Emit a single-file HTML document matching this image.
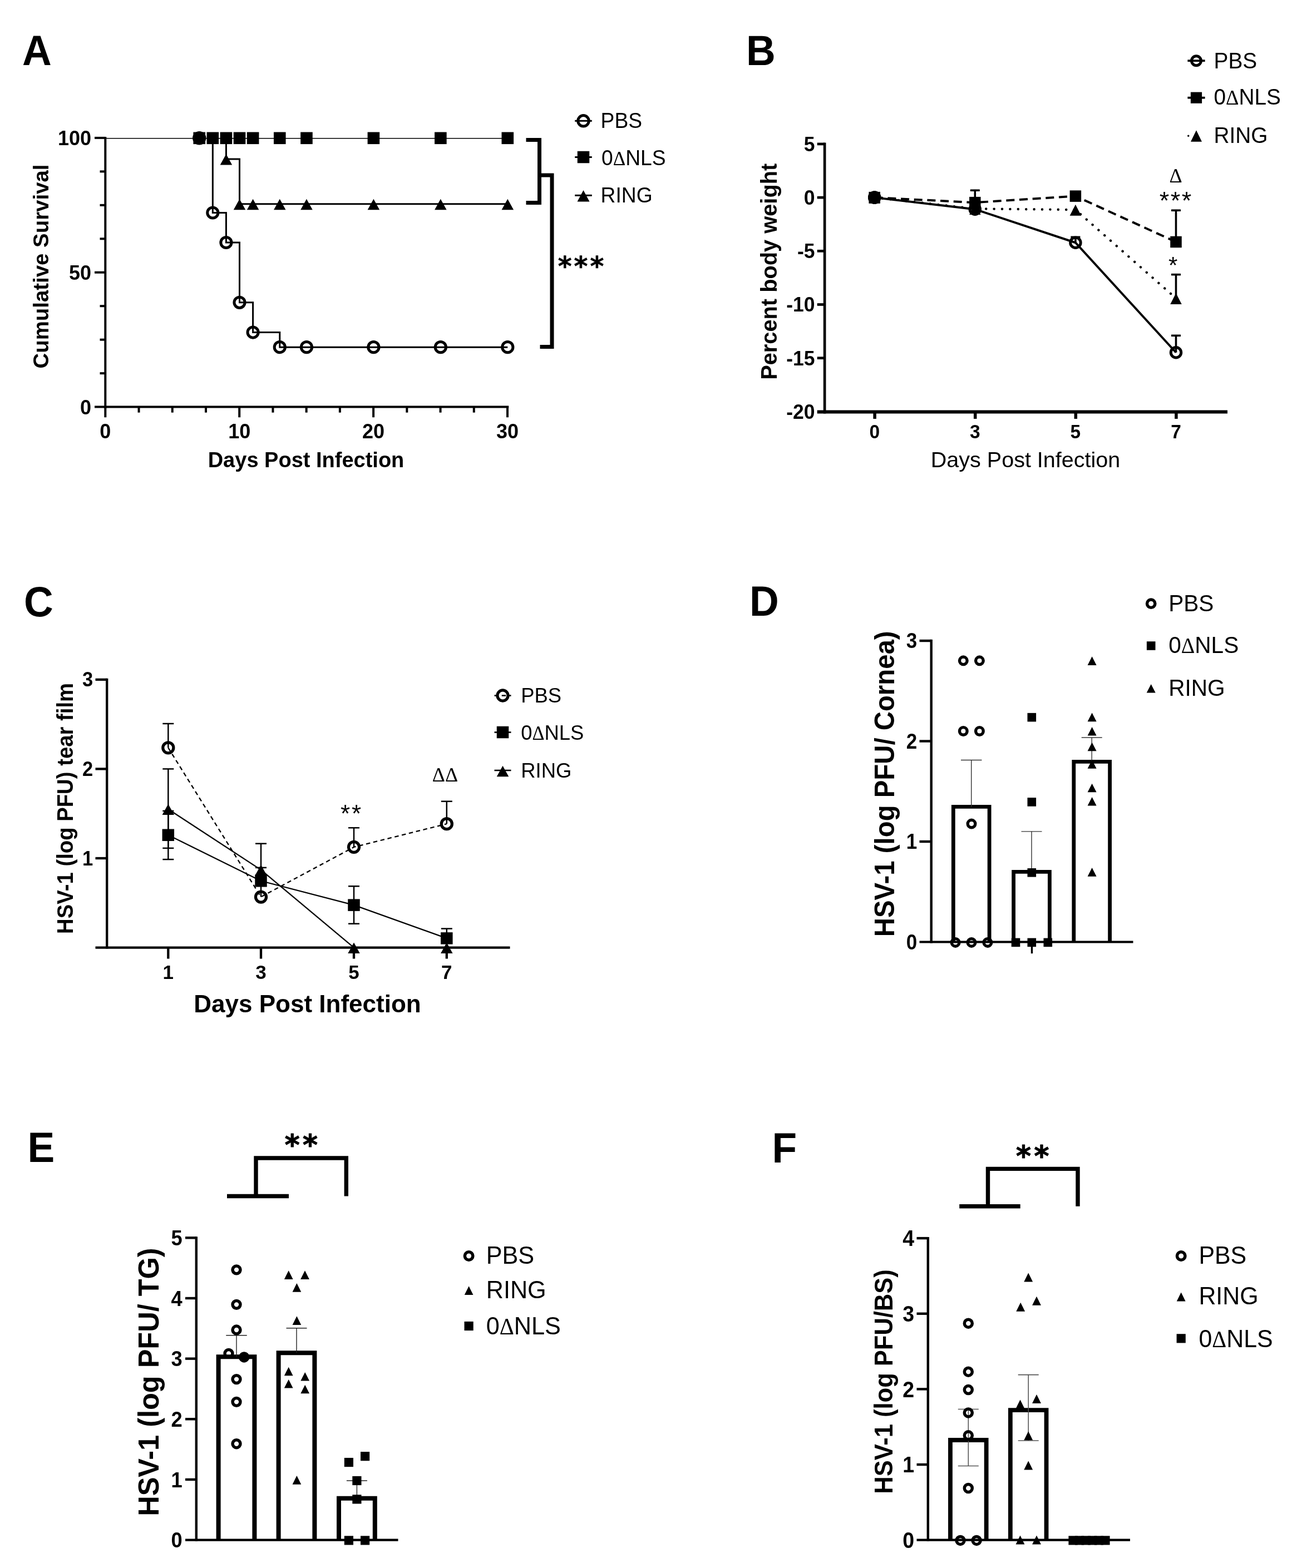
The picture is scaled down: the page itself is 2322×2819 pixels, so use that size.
<!DOCTYPE html>
<html lang="en">
<head>
<meta charset="utf-8">
<title>Figure: HSV-1 vaccine efficacy (survival, body weight, viral titers)</title>
<style>
html,body{margin:0;padding:0;background:#fff;}
body{width:2322px;height:2819px;overflow:hidden;}
svg{display:block;}
svg text{font-family:'Liberation Sans', Arial, Helvetica, sans-serif;fill:#000;}
svg text.sf, svg tspan.sf{font-family:'Liberation Serif', 'Times New Roman', serif;}
svg text.dj{font-family:'DejaVu Sans', 'Liberation Sans', sans-serif;}
svg line, svg polyline{stroke:#000;}
</style>
</head>
<body>
<svg width="2322" height="2819" viewBox="0 0 2322 2819" role="img" aria-label="Six panel figure">
<rect x="0" y="0" width="2322" height="2819" fill="#fff" stroke="none"/>
<!-- Panel A: cumulative survival -->
<text transform="translate(40 116.5) scale(1 1.04)" font-size="73" font-weight="bold">A</text>
<line x1="189.3" y1="246" x2="189.3" y2="734" stroke-width="4"/>
<line x1="170" y1="731.4" x2="914.3" y2="731.4" stroke-width="4"/>
<line x1="179.5" y1="671.14" x2="189.3" y2="671.14" stroke-width="4"/>
<line x1="179.5" y1="610.68" x2="189.3" y2="610.68" stroke-width="4"/>
<line x1="179.5" y1="550.21" x2="189.3" y2="550.21" stroke-width="4"/>
<line x1="170" y1="489.75" x2="189.3" y2="489.75" stroke-width="4"/>
<line x1="179.5" y1="429.29" x2="189.3" y2="429.29" stroke-width="4"/>
<line x1="179.5" y1="368.83" x2="189.3" y2="368.83" stroke-width="4"/>
<line x1="179.5" y1="308.36" x2="189.3" y2="308.36" stroke-width="4"/>
<line x1="170" y1="247.9" x2="189.3" y2="247.9" stroke-width="4"/>
<line x1="189.3" y1="732" x2="189.3" y2="750.3" stroke-width="4"/>
<line x1="249.53" y1="732" x2="249.53" y2="741.7" stroke-width="4"/>
<line x1="309.75" y1="732" x2="309.75" y2="741.7" stroke-width="4"/>
<line x1="369.98" y1="732" x2="369.98" y2="741.7" stroke-width="4"/>
<line x1="430.2" y1="732" x2="430.2" y2="750.3" stroke-width="4"/>
<line x1="490.43" y1="732" x2="490.43" y2="741.7" stroke-width="4"/>
<line x1="550.65" y1="732" x2="550.65" y2="741.7" stroke-width="4"/>
<line x1="610.88" y1="732" x2="610.88" y2="741.7" stroke-width="4"/>
<line x1="671.1" y1="732" x2="671.1" y2="750.3" stroke-width="4"/>
<line x1="731.33" y1="732" x2="731.33" y2="741.7" stroke-width="4"/>
<line x1="791.55" y1="732" x2="791.55" y2="741.7" stroke-width="4"/>
<line x1="851.78" y1="732" x2="851.78" y2="741.7" stroke-width="4"/>
<line x1="912" y1="732" x2="912" y2="750.3" stroke-width="4"/>
<text transform="translate(164 744.9) scale(1 1.04)" font-size="36" font-weight="bold" text-anchor="end">0</text>
<text transform="translate(164 503.05) scale(1 1.04)" font-size="36" font-weight="bold" text-anchor="end">50</text>
<text transform="translate(164 261.2) scale(1 1.04)" font-size="36" font-weight="bold" text-anchor="end">100</text>
<text transform="translate(189.3 788.4) scale(1 1.03)" font-size="36" font-weight="bold" text-anchor="middle">0</text>
<text transform="translate(430.2 788.4) scale(1 1.03)" font-size="36" font-weight="bold" text-anchor="middle">10</text>
<text transform="translate(671.1 788.4) scale(1 1.03)" font-size="36" font-weight="bold" text-anchor="middle">20</text>
<text transform="translate(912 788.4) scale(1 1.03)" font-size="36" font-weight="bold" text-anchor="middle">30</text>
<text x="550" y="840" font-size="38" font-weight="bold" text-anchor="middle">Days Post Infection</text>
<text transform="translate(87.3 479) rotate(-90) scale(1 1.03)" font-size="38.4" font-weight="bold" text-anchor="middle">Cumulative Survival</text>
<polyline points="191,248.8 912.3,248.8" fill="none" stroke-width="1.6" stroke-linejoin="miter"/>
<polyline points="406.41,248.3 406.41,286.03 430.5,286.03 430.5,366.81 912.3,366.81" fill="none" stroke-width="3" stroke-linejoin="miter"/>
<polyline points="382.32,248.3 382.32,382.48 406.41,382.48 406.41,435.98 430.5,435.98 430.5,543.84 454.59,543.84 454.59,597.53 502.77,597.53 502.77,624.13 912.3,624.13" fill="none" stroke-width="3" stroke-linejoin="miter"/>
<circle cx="358.23" cy="248.3" r="9.75" fill="#000" stroke="#000" stroke-width="5"/>
<circle cx="382.32" cy="382.48" r="9.6" fill="none" stroke="#000" stroke-width="5"/>
<circle cx="406.41" cy="435.98" r="9.6" fill="none" stroke="#000" stroke-width="5"/>
<circle cx="430.5" cy="543.84" r="9.6" fill="none" stroke="#000" stroke-width="5"/>
<circle cx="454.59" cy="597.53" r="9.6" fill="none" stroke="#000" stroke-width="5"/>
<circle cx="502.77" cy="624.13" r="9.6" fill="none" stroke="#000" stroke-width="5"/>
<circle cx="550.95" cy="624.13" r="9.6" fill="none" stroke="#000" stroke-width="5"/>
<circle cx="671.4" cy="624.13" r="9.6" fill="none" stroke="#000" stroke-width="5"/>
<circle cx="791.85" cy="624.13" r="9.6" fill="none" stroke="#000" stroke-width="5"/>
<circle cx="912.3" cy="624.13" r="9.6" fill="none" stroke="#000" stroke-width="5"/>
<polygon points="406.41,276.98 417.16,296.48 395.66,296.48" fill="#000" stroke="none"/>
<polygon points="430.5,357.76 441.25,377.26 419.75,377.26" fill="#000" stroke="none"/>
<polygon points="454.59,357.76 465.34,377.26 443.84,377.26" fill="#000" stroke="none"/>
<polygon points="502.77,357.76 513.52,377.26 492.02,377.26" fill="#000" stroke="none"/>
<polygon points="550.95,357.76 561.7,377.26 540.2,377.26" fill="#000" stroke="none"/>
<polygon points="671.4,357.76 682.15,377.26 660.65,377.26" fill="#000" stroke="none"/>
<polygon points="791.85,357.76 802.6,377.26 781.1,377.26" fill="#000" stroke="none"/>
<polygon points="912.3,357.76 923.05,377.26 901.55,377.26" fill="#000" stroke="none"/>
<rect x="347.43" y="237.5" width="21.6" height="21.6" fill="#000" stroke="none"/>
<rect x="371.52" y="237.5" width="21.6" height="21.6" fill="#000" stroke="none"/>
<rect x="395.61" y="237.5" width="21.6" height="21.6" fill="#000" stroke="none"/>
<rect x="419.7" y="237.5" width="21.6" height="21.6" fill="#000" stroke="none"/>
<rect x="443.79" y="237.5" width="21.6" height="21.6" fill="#000" stroke="none"/>
<rect x="491.97" y="237.5" width="21.6" height="21.6" fill="#000" stroke="none"/>
<rect x="540.15" y="237.5" width="21.6" height="21.6" fill="#000" stroke="none"/>
<rect x="660.6" y="237.5" width="21.6" height="21.6" fill="#000" stroke="none"/>
<rect x="781.05" y="237.5" width="21.6" height="21.6" fill="#000" stroke="none"/>
<rect x="901.5" y="237.5" width="21.6" height="21.6" fill="#000" stroke="none"/>
<line x1="1033.2" y1="217.3" x2="1063.8" y2="217.3" stroke-width="3"/>
<circle cx="1048.5" cy="217.3" r="9.75" fill="none" stroke="#000" stroke-width="5"/>
<line x1="1033.2" y1="282.5" x2="1063.8" y2="282.5" stroke-width="3"/>
<rect x="1037.75" y="271.75" width="21.5" height="21.5" fill="#000" stroke="none"/>
<line x1="1033.2" y1="351.3" x2="1063.8" y2="351.3" stroke-width="3"/>
<polygon points="1048.5,342.05 1059.5,362.55 1037.5,362.55" fill="#000" stroke="none"/>
<text transform="translate(1079.6 229.7) scale(1 1.04)" font-size="37.2">PBS</text>
<text transform="translate(1081 296.5) scale(1 1.04)" font-size="37.2">0<tspan class="sf" font-size="34.97">Δ</tspan>NLS</text>
<text transform="translate(1079.6 364) scale(1 1.04)" font-size="37.2">RING</text>
<polyline points="945.5,251.5 969.5,251.5 969.5,364.5 945.5,364.5" fill="none" stroke-width="7" stroke-linejoin="miter"/>
<polyline points="969.5,315 992,315 992,623.5 970.5,623.5" fill="none" stroke-width="7" stroke-linejoin="miter"/>
<text x="1002.65" y="495.41" font-size="47.5" letter-spacing="4.06" font-weight="bold" class="dj" stroke="#000" stroke-width="0.6" stroke-linejoin="round">***</text>
<!-- Panel B: percent body weight -->
<text transform="translate(1341 116.5) scale(1 1.04)" font-size="73" font-weight="bold">B</text>
<line x1="1482.1" y1="256.6" x2="1482.1" y2="743.5" stroke-width="4.7"/>
<line x1="1468.7" y1="740.5" x2="2206" y2="740.5" stroke-width="6"/>
<line x1="1468.7" y1="258.9" x2="1482.1" y2="258.9" stroke-width="4.7"/>
<line x1="1468.7" y1="355.1" x2="1482.1" y2="355.1" stroke-width="4.7"/>
<line x1="1468.7" y1="451.3" x2="1482.1" y2="451.3" stroke-width="4.7"/>
<line x1="1468.7" y1="547.5" x2="1482.1" y2="547.5" stroke-width="4.7"/>
<line x1="1468.7" y1="643.7" x2="1482.1" y2="643.7" stroke-width="4.7"/>
<line x1="1572.1" y1="740.5" x2="1572.1" y2="753" stroke-width="5.5"/>
<line x1="1752.7" y1="740.5" x2="1752.7" y2="753" stroke-width="5.5"/>
<line x1="1933.3" y1="740.5" x2="1933.3" y2="753" stroke-width="5.5"/>
<line x1="2113.9" y1="740.5" x2="2113.9" y2="753" stroke-width="5.5"/>
<text transform="translate(1464.5 271.7) scale(1 1.03)" font-size="35.5" font-weight="bold" text-anchor="end">5</text>
<text transform="translate(1464.5 367.9) scale(1 1.03)" font-size="35.5" font-weight="bold" text-anchor="end">0</text>
<text transform="translate(1464.5 464.1) scale(1 1.03)" font-size="35.5" font-weight="bold" text-anchor="end">-5</text>
<text transform="translate(1464.5 560.3) scale(1 1.03)" font-size="35.5" font-weight="bold" text-anchor="end">-10</text>
<text transform="translate(1464.5 656.5) scale(1 1.03)" font-size="35.5" font-weight="bold" text-anchor="end">-15</text>
<text transform="translate(1464.5 752.7) scale(1 1.03)" font-size="35.5" font-weight="bold" text-anchor="end">-20</text>
<text transform="translate(1571.7 787.8) scale(1 1.04)" font-size="33.5" font-weight="bold" text-anchor="middle">0</text>
<text transform="translate(1752.3 787.8) scale(1 1.04)" font-size="33.5" font-weight="bold" text-anchor="middle">3</text>
<text transform="translate(1932.9 787.8) scale(1 1.04)" font-size="33.5" font-weight="bold" text-anchor="middle">5</text>
<text transform="translate(2113.5 787.8) scale(1 1.04)" font-size="33.5" font-weight="bold" text-anchor="middle">7</text>
<text x="1843" y="839.6" font-size="39.5" text-anchor="middle">Days Post Infection</text>
<text transform="translate(1396.3 488.3) rotate(-90) scale(1 1.02)" font-size="39.8" font-weight="bold" text-anchor="middle">Percent body weight</text>
<polyline points="1571.7,355.1 1752.3,376.26 1932.9,436.29 2113.5,633.7" fill="none" stroke-width="3.9" stroke-linejoin="miter"/>
<polyline points="1571.7,355.1 1752.3,364.14 1932.9,352.6 2113.5,434.95" fill="none" stroke-width="4" stroke-linejoin="miter" stroke-dasharray="15 8.7"/>
<polyline points="1571.7,355.1 1752.3,375.3 1932.9,377.03 2113.5,536.34" fill="none" stroke-width="4.4" stroke-linejoin="miter" stroke-dasharray="0.1 14.3" stroke-linecap="round"/>
<line x1="1752.3" y1="342.21" x2="1752.3" y2="364.14" stroke-width="3.6"/>
<line x1="1743.8" y1="342.21" x2="1760.8" y2="342.21" stroke-width="3.6"/>
<line x1="1932.9" y1="426.29" x2="1932.9" y2="436.29" stroke-width="3.6"/>
<line x1="1924.4" y1="426.29" x2="1941.4" y2="426.29" stroke-width="3.6"/>
<line x1="2113.5" y1="378.19" x2="2113.5" y2="434.95" stroke-width="3.6"/>
<line x1="2105" y1="378.19" x2="2122" y2="378.19" stroke-width="3.6"/>
<line x1="2113.5" y1="493.63" x2="2113.5" y2="536.34" stroke-width="3.6"/>
<line x1="2105" y1="493.63" x2="2122" y2="493.63" stroke-width="3.6"/>
<line x1="2113.5" y1="603.3" x2="2113.5" y2="633.7" stroke-width="3.6"/>
<line x1="2105" y1="603.3" x2="2122" y2="603.3" stroke-width="3.6"/>
<circle cx="1571.7" cy="355.1" r="9.25" fill="none" stroke="#000" stroke-width="5"/>
<circle cx="1752.3" cy="376.26" r="9.25" fill="none" stroke="#000" stroke-width="5"/>
<circle cx="1932.9" cy="436.29" r="9.25" fill="none" stroke="#000" stroke-width="5"/>
<circle cx="2113.5" cy="633.7" r="9.25" fill="none" stroke="#000" stroke-width="5"/>
<polygon points="1571.7,345.8 1581.95,365.8 1561.45,365.8" fill="#000" stroke="none"/>
<polygon points="1752.3,366 1762.55,386 1742.05,386" fill="#000" stroke="none"/>
<polygon points="1932.9,367.73 1943.15,387.73 1922.65,387.73" fill="#000" stroke="none"/>
<polygon points="2113.5,527.04 2123.75,547.04 2103.25,547.04" fill="#000" stroke="none"/>
<rect x="1561.45" y="344.85" width="20.5" height="20.5" fill="#000" stroke="none"/>
<rect x="1742.05" y="353.89" width="20.5" height="20.5" fill="#000" stroke="none"/>
<rect x="1922.65" y="342.35" width="20.5" height="20.5" fill="#000" stroke="none"/>
<rect x="2103.25" y="424.7" width="20.5" height="20.5" fill="#000" stroke="none"/>
<circle cx="1571.7" cy="355.1" r="9.25" fill="#000" stroke="#000" stroke-width="5"/>
<line x1="2134.4" y1="109.2" x2="2165.6" y2="109.2" stroke-width="3.8"/>
<circle cx="2150" cy="109.2" r="8.5" fill="none" stroke="#000" stroke-width="5"/>
<line x1="2134.4" y1="175.7" x2="2165.6" y2="175.7" stroke-width="3.8"/>
<rect x="2139.9" y="165.6" width="20.2" height="20.2" fill="#000" stroke="none"/>
<line x1="2135.7" y1="244.2" x2="2164.4" y2="244.2" stroke-width="3.4" stroke-dasharray="0.1 14.3" stroke-linecap="round"/>
<polygon points="2150,234.15 2160,254.65 2140,254.65" fill="#000" stroke="none"/>
<text transform="translate(2181.5 122.6) scale(1 1.04)" font-size="38.8">PBS</text>
<text transform="translate(2181.5 188.4) scale(1 1.04)" font-size="38.8">0<tspan class="sf" font-size="36.47">Δ</tspan>NLS</text>
<text transform="translate(2181.5 257) scale(1 1.04)" font-size="38.8">RING</text>
<text x="2113" y="327.5" font-size="36" text-anchor="middle" class="sf">Δ</text>
<text x="2083.82" y="375.68" font-size="45" letter-spacing="2.5">***</text>
<text x="2100.11" y="491.43" font-size="42" letter-spacing="3.66">*</text>
<!-- Panel C: tear film titers -->
<text transform="translate(43 1107.8) scale(1 1.04)" font-size="73" font-weight="bold">C</text>
<line x1="192.2" y1="1219.8" x2="192.2" y2="1705.6" stroke-width="4.3"/>
<line x1="171.5" y1="1703.6" x2="916.5" y2="1703.6" stroke-width="4.3"/>
<line x1="171.5" y1="1543" x2="192.2" y2="1543" stroke-width="4.3"/>
<line x1="171.5" y1="1382.4" x2="192.2" y2="1382.4" stroke-width="4.3"/>
<line x1="171.5" y1="1221.8" x2="192.2" y2="1221.8" stroke-width="4.3"/>
<line x1="302.3" y1="1703.6" x2="302.3" y2="1723.6" stroke-width="4.3"/>
<line x1="469" y1="1703.6" x2="469" y2="1723.6" stroke-width="4.3"/>
<line x1="636" y1="1703.6" x2="636" y2="1723.6" stroke-width="4.3"/>
<line x1="802.8" y1="1703.6" x2="802.8" y2="1723.6" stroke-width="4.3"/>
<text transform="translate(167.2 1555.6) scale(1 1.05)" font-size="34.5" font-weight="bold" text-anchor="end">1</text>
<text transform="translate(167.2 1395) scale(1 1.05)" font-size="34.5" font-weight="bold" text-anchor="end">2</text>
<text transform="translate(167.2 1234.4) scale(1 1.05)" font-size="34.5" font-weight="bold" text-anchor="end">3</text>
<text x="302.3" y="1759.8" font-size="35" font-weight="bold" text-anchor="middle">1</text>
<text x="469" y="1759.8" font-size="35" font-weight="bold" text-anchor="middle">3</text>
<text x="636" y="1759.8" font-size="35" font-weight="bold" text-anchor="middle">5</text>
<text x="802.8" y="1759.8" font-size="35" font-weight="bold" text-anchor="middle">7</text>
<text x="552.5" y="1820" font-size="44" font-weight="bold" text-anchor="middle">Days Post Infection</text>
<text transform="translate(131 1453.4) rotate(-90) scale(1 1.06)" font-size="38.3" font-weight="bold" text-anchor="middle">HSV-1 (log PFU) tear film</text>
<line x1="302.3" y1="1300.98" x2="302.3" y2="1344.34" stroke-width="2.5"/>
<line x1="292.3" y1="1300.98" x2="312.3" y2="1300.98" stroke-width="2.5"/>
<line x1="302.3" y1="1382.4" x2="302.3" y2="1524.85" stroke-width="2.5"/>
<line x1="292.3" y1="1382.4" x2="312.3" y2="1382.4" stroke-width="2.5"/>
<line x1="292.3" y1="1524.85" x2="312.3" y2="1524.85" stroke-width="2.5"/>
<line x1="302.3" y1="1457.88" x2="302.3" y2="1545.09" stroke-width="2.5"/>
<line x1="292.3" y1="1457.88" x2="312.3" y2="1457.88" stroke-width="2.5"/>
<line x1="292.3" y1="1545.09" x2="312.3" y2="1545.09" stroke-width="2.5"/>
<line x1="469" y1="1516.66" x2="469" y2="1563.88" stroke-width="2.5"/>
<line x1="459" y1="1516.66" x2="479" y2="1516.66" stroke-width="2.5"/>
<line x1="469" y1="1559.86" x2="469" y2="1612.54" stroke-width="2.5"/>
<line x1="459" y1="1559.86" x2="479" y2="1559.86" stroke-width="2.5"/>
<line x1="469" y1="1572.71" x2="469" y2="1583.79" stroke-width="2.5"/>
<line x1="459" y1="1572.71" x2="479" y2="1572.71" stroke-width="2.5"/>
<line x1="636" y1="1488.24" x2="636" y2="1522.92" stroke-width="2.5"/>
<line x1="626" y1="1488.24" x2="646" y2="1488.24" stroke-width="2.5"/>
<line x1="636" y1="1593.27" x2="636" y2="1660.72" stroke-width="2.5"/>
<line x1="626" y1="1593.27" x2="646" y2="1593.27" stroke-width="2.5"/>
<line x1="626" y1="1660.72" x2="646" y2="1660.72" stroke-width="2.5"/>
<line x1="802.8" y1="1440.7" x2="802.8" y2="1481.17" stroke-width="2.5"/>
<line x1="792.8" y1="1440.7" x2="812.8" y2="1440.7" stroke-width="2.5"/>
<line x1="802.8" y1="1669.55" x2="802.8" y2="1686.9" stroke-width="2.5"/>
<line x1="792.8" y1="1669.55" x2="812.8" y2="1669.55" stroke-width="2.5"/>
<polyline points="302.3,1344.34 469,1612.54 636,1522.92 802.8,1481.17" fill="none" stroke-width="2.3" stroke-linejoin="miter" stroke-dasharray="7.5 5.7"/>
<polyline points="302.3,1501.24 469,1583.79 636,1627.15 802.8,1686.9" fill="none" stroke-width="2.3" stroke-linejoin="miter"/>
<polyline points="302.3,1454.67 469,1563.88 636,1703.6 802.8,1703.6" fill="none" stroke-width="2.3" stroke-linejoin="miter"/>
<circle cx="302.3" cy="1344.34" r="9.55" fill="none" stroke="#000" stroke-width="5.2"/>
<circle cx="469" cy="1612.54" r="9.55" fill="none" stroke="#000" stroke-width="5.2"/>
<circle cx="636" cy="1522.92" r="9.55" fill="none" stroke="#000" stroke-width="5.2"/>
<circle cx="802.8" cy="1481.17" r="9.55" fill="none" stroke="#000" stroke-width="5.2"/>
<rect x="291.55" y="1490.49" width="21.5" height="21.5" fill="#000" stroke="none"/>
<rect x="458.25" y="1573.04" width="21.5" height="21.5" fill="#000" stroke="none"/>
<rect x="625.25" y="1616.4" width="21.5" height="21.5" fill="#000" stroke="none"/>
<rect x="792.05" y="1676.15" width="21.5" height="21.5" fill="#000" stroke="none"/>
<polygon points="302.3,1445.62 313.05,1465.12 291.55,1465.12" fill="#000" stroke="none"/>
<polygon points="469,1554.83 479.75,1574.33 458.25,1574.33" fill="#000" stroke="none"/>
<polygon points="636,1694.55 646.75,1714.05 625.25,1714.05" fill="#000" stroke="none"/>
<polygon points="802.8,1694.55 813.55,1714.05 792.05,1714.05" fill="#000" stroke="none"/>
<line x1="888.5" y1="1250.5" x2="918.5" y2="1250.5" stroke-width="2.4" stroke-dasharray="7.5 5.7"/>
<circle cx="903.5" cy="1250.5" r="9.55" fill="none" stroke="#000" stroke-width="5.2"/>
<line x1="888.5" y1="1316.5" x2="918.5" y2="1316.5" stroke-width="2.6"/>
<rect x="892.75" y="1305.75" width="21.5" height="21.5" fill="#000" stroke="none"/>
<line x1="888.5" y1="1385" x2="918.5" y2="1385" stroke-width="2.6"/>
<polygon points="903.5,1376.75 914.25,1396.25 892.75,1396.25" fill="#000" stroke="none"/>
<text transform="translate(936.3 1263.2) scale(1 1.04)" font-size="36.4">PBS</text>
<text transform="translate(936.3 1329.5) scale(1 1.04)" font-size="36.4">0<tspan class="sf" font-size="34.22">Δ</tspan>NLS</text>
<text transform="translate(936.3 1397.5) scale(1 1.04)" font-size="36.4">RING</text>
<text x="611.92" y="1478.16" font-size="44" letter-spacing="2.88">**</text>
<text x="800" y="1405" font-size="36" text-anchor="middle" class="sf">ΔΔ</text>
<!-- Panel D: cornea titers -->
<text transform="translate(1347 1107.4) scale(1 1.04)" font-size="73" font-weight="bold">D</text>
<polyline points="1713.3,1693.5 1713.3,1450.39 1778.1,1450.39 1778.1,1693.5" fill="none" stroke-width="6.8" stroke-linejoin="miter"/>
<polyline points="1821.6,1693.5 1821.6,1567.36 1886.4,1567.36 1886.4,1693.5" fill="none" stroke-width="6.8" stroke-linejoin="miter"/>
<polyline points="1929.8,1693.5 1929.8,1369.39 1994.6,1369.39 1994.6,1693.5" fill="none" stroke-width="6.8" stroke-linejoin="miter"/>
<line x1="1673.7" y1="1149.8" x2="1673.7" y2="1695.6" stroke-width="4.4"/>
<line x1="1652.5" y1="1693.5" x2="2036.5" y2="1693.5" stroke-width="4.2"/>
<line x1="1652.5" y1="1513" x2="1673.7" y2="1513" stroke-width="4.4"/>
<line x1="1652.5" y1="1332.5" x2="1673.7" y2="1332.5" stroke-width="4.4"/>
<line x1="1652.5" y1="1152" x2="1673.7" y2="1152" stroke-width="4.4"/>
<text transform="translate(1648.2 1706.97) scale(1 1.1)" font-size="35" font-weight="bold" text-anchor="end">0</text>
<text transform="translate(1648.2 1526.47) scale(1 1.1)" font-size="35" font-weight="bold" text-anchor="end">1</text>
<text transform="translate(1648.2 1345.97) scale(1 1.1)" font-size="35" font-weight="bold" text-anchor="end">2</text>
<text transform="translate(1648.2 1165.47) scale(1 1.1)" font-size="35" font-weight="bold" text-anchor="end">3</text>
<text transform="translate(1607 1409.3) rotate(-90) scale(1 1.04)" font-size="47.35" font-weight="bold" text-anchor="middle">HSV-1 (log PFU/ Cornea)</text>
<line x1="1745.7" y1="1366.49" x2="1745.7" y2="1450.39" stroke-width="1.4" style="stroke:#333"/>
<line x1="1726.95" y1="1366.49" x2="1764.45" y2="1366.49" stroke-width="1.4" style="stroke:#333"/>
<circle cx="1731.3" cy="1187.86" r="6.8" fill="none" stroke="#000" stroke-width="5.4"/>
<circle cx="1760.4" cy="1187.86" r="6.8" fill="none" stroke="#000" stroke-width="5.4"/>
<circle cx="1731.3" cy="1314.42" r="6.8" fill="none" stroke="#000" stroke-width="5.4"/>
<circle cx="1760.4" cy="1314.42" r="6.8" fill="none" stroke="#000" stroke-width="5.4"/>
<circle cx="1746" cy="1481.12" r="6.8" fill="none" stroke="#000" stroke-width="5.4"/>
<circle cx="1717.1" cy="1694.4" r="6.8" fill="none" stroke="#000" stroke-width="5.4"/>
<circle cx="1746" cy="1694.4" r="6.8" fill="none" stroke="#000" stroke-width="5.4"/>
<circle cx="1774.9" cy="1694.4" r="6.8" fill="none" stroke="#000" stroke-width="5.4"/>
<line x1="1854" y1="1494.86" x2="1854" y2="1567.36" stroke-width="1.4" style="stroke:#333"/>
<line x1="1835.5" y1="1494.86" x2="1872.5" y2="1494.86" stroke-width="1.4" style="stroke:#333"/>
<rect x="1846.5" y="1281.85" width="15.6" height="15.6" fill="#000" stroke="none"/>
<rect x="1846.5" y="1434.09" width="15.6" height="15.6" fill="#000" stroke="none"/>
<rect x="1846.5" y="1561.01" width="15.6" height="15.6" fill="#000" stroke="none"/>
<rect x="1817.7" y="1686.6" width="15.6" height="15.6" fill="#000" stroke="none"/>
<rect x="1846.5" y="1686.6" width="15.6" height="15.6" fill="#000" stroke="none"/>
<rect x="1875.5" y="1686.6" width="15.6" height="15.6" fill="#000" stroke="none"/>
<line x1="1962.2" y1="1326" x2="1962.2" y2="1369.39" stroke-width="1.4" style="stroke:#333"/>
<line x1="1943.7" y1="1326" x2="1980.7" y2="1326" stroke-width="1.4" style="stroke:#333"/>
<polygon points="1962.6,1180.37 1970.6,1195.97 1954.6,1195.97" fill="#000" stroke="none"/>
<polygon points="1962.6,1281.62 1970.6,1297.22 1954.6,1297.22" fill="#000" stroke="none"/>
<polygon points="1962.6,1306.93 1970.6,1322.53 1954.6,1322.53" fill="#000" stroke="none"/>
<polygon points="1962.6,1334.77 1970.6,1350.37 1954.6,1350.37" fill="#000" stroke="none"/>
<polygon points="1962.6,1366.05 1970.6,1381.65 1954.6,1381.65" fill="#000" stroke="none"/>
<polygon points="1962.6,1408.72 1970.6,1424.32 1954.6,1424.32" fill="#000" stroke="none"/>
<polygon points="1962.6,1432.95 1970.6,1448.55 1954.6,1448.55" fill="#000" stroke="none"/>
<polygon points="1962.6,1560.05 1970.6,1575.65 1954.6,1575.65" fill="#000" stroke="none"/>
<circle cx="2068.7" cy="1085.2" r="7.2" fill="none" stroke="#000" stroke-width="5.4"/>
<text transform="translate(2100.2 1098.5) scale(1 1.04)" font-size="40.6">PBS</text>
<rect x="2060.9" y="1153.2" width="15.6" height="15.6" fill="#000" stroke="none"/>
<text transform="translate(2100.2 1174.2) scale(1 1.04)" font-size="40.6">0<tspan class="sf" font-size="38.16">Δ</tspan>NLS</text>
<polygon points="2068.7,1229.9 2076.7,1245.5 2060.7,1245.5" fill="#000" stroke="none"/>
<text transform="translate(2100.2 1250.5) scale(1 1.04)" font-size="40.6">RING</text>
<line x1="1854.5" y1="1693.5" x2="1854.5" y2="1714.2" stroke-width="3.4"/>
<!-- Panel E: TG titers -->
<text transform="translate(49.6 2089.2) scale(1 1.04)" font-size="73" font-weight="bold">E</text>
<polyline points="392.6,2768.6 392.6,2439.27 457.4,2439.27 457.4,2768.6" fill="none" stroke-width="8" stroke-linejoin="miter"/>
<polyline points="500.6,2768.6 500.6,2432.21 565.4,2432.21 565.4,2768.6" fill="none" stroke-width="8" stroke-linejoin="miter"/>
<polyline points="609,2768.6 609,2693.85 673.8,2693.85 673.8,2768.6" fill="none" stroke-width="8" stroke-linejoin="miter"/>
<line x1="352.8" y1="2223.15" x2="352.8" y2="2770.7" stroke-width="4.4"/>
<line x1="333" y1="2768.6" x2="715.5" y2="2768.6" stroke-width="4.2"/>
<line x1="333" y1="2659.95" x2="352.8" y2="2659.95" stroke-width="4.4"/>
<line x1="333" y1="2551.3" x2="352.8" y2="2551.3" stroke-width="4.4"/>
<line x1="333" y1="2442.65" x2="352.8" y2="2442.65" stroke-width="4.4"/>
<line x1="333" y1="2334" x2="352.8" y2="2334" stroke-width="4.4"/>
<line x1="333" y1="2225.35" x2="352.8" y2="2225.35" stroke-width="4.4"/>
<text transform="translate(327.6 2782.38) scale(1 1.08)" font-size="36.3" font-weight="bold" text-anchor="end">0</text>
<text transform="translate(327.6 2673.73) scale(1 1.08)" font-size="36.3" font-weight="bold" text-anchor="end">1</text>
<text transform="translate(327.6 2565.08) scale(1 1.08)" font-size="36.3" font-weight="bold" text-anchor="end">2</text>
<text transform="translate(327.6 2456.43) scale(1 1.08)" font-size="36.3" font-weight="bold" text-anchor="end">3</text>
<text transform="translate(327.6 2347.78) scale(1 1.08)" font-size="36.3" font-weight="bold" text-anchor="end">4</text>
<text transform="translate(327.6 2239.13) scale(1 1.08)" font-size="36.3" font-weight="bold" text-anchor="end">5</text>
<text transform="translate(285 2484.6) rotate(-90) scale(1 1.03)" font-size="50.5" font-weight="bold" text-anchor="middle">HSV-1 (log PFU/ TG)</text>
<line x1="425" y1="2400.79" x2="425" y2="2439.27" stroke-width="1.4" style="stroke:#222"/>
<line x1="406.25" y1="2400.79" x2="443.75" y2="2400.79" stroke-width="1.4" style="stroke:#222"/>
<circle cx="425" cy="2282.85" r="6.95" fill="none" stroke="#000" stroke-width="5.5"/>
<circle cx="425" cy="2345.36" r="6.95" fill="none" stroke="#000" stroke-width="5.5"/>
<circle cx="425" cy="2391.01" r="6.95" fill="none" stroke="#000" stroke-width="5.5"/>
<circle cx="411" cy="2433.4" r="6.95" fill="none" stroke="#000" stroke-width="5.5"/>
<circle cx="438.7" cy="2439.93" r="6.95" fill="#000" stroke="#000" stroke-width="5.5"/>
<circle cx="425" cy="2479.6" r="6.95" fill="none" stroke="#000" stroke-width="5.5"/>
<circle cx="425" cy="2520.36" r="6.95" fill="none" stroke="#000" stroke-width="5.5"/>
<circle cx="425" cy="2595.69" r="6.95" fill="none" stroke="#000" stroke-width="5.5"/>
<line x1="533" y1="2387.75" x2="533" y2="2432.21" stroke-width="1.4" style="stroke:#222"/>
<line x1="514.5" y1="2387.75" x2="551.5" y2="2387.75" stroke-width="1.4" style="stroke:#222"/>
<polygon points="518.7,2284.28 526.55,2299.88 510.85,2299.88" fill="#000" stroke="none"/>
<polygon points="548,2284.28 555.85,2299.88 540.15,2299.88" fill="#000" stroke="none"/>
<polygon points="533.4,2307.11 541.25,2322.71 525.55,2322.71" fill="#000" stroke="none"/>
<polygon points="533.4,2366.35 541.25,2381.95 525.55,2381.95" fill="#000" stroke="none"/>
<polygon points="518.7,2457.66 526.55,2473.26 510.85,2473.26" fill="#000" stroke="none"/>
<polygon points="548.2,2466.9 556.05,2482.5 540.35,2482.5" fill="#000" stroke="none"/>
<polygon points="518.7,2479.94 526.55,2495.54 510.85,2495.54" fill="#000" stroke="none"/>
<polygon points="548.2,2489.72 556.05,2505.32 540.35,2505.32" fill="#000" stroke="none"/>
<polygon points="533.4,2653.1 541.25,2668.7 525.55,2668.7" fill="#000" stroke="none"/>
<line x1="641.4" y1="2662" x2="641.4" y2="2693.85" stroke-width="1.4" style="stroke:#222"/>
<line x1="622.9" y1="2662" x2="659.9" y2="2662" stroke-width="1.4" style="stroke:#222"/>
<rect x="618.8" y="2620.96" width="16.2" height="16.2" fill="#000" stroke="none"/>
<rect x="648" y="2610.09" width="16.2" height="16.2" fill="#000" stroke="none"/>
<rect x="633.3" y="2653.9" width="16.2" height="16.2" fill="#000" stroke="none"/>
<rect x="633.3" y="2687.27" width="16.2" height="16.2" fill="#000" stroke="none"/>
<rect x="618.8" y="2761.3" width="16.2" height="16.2" fill="#000" stroke="none"/>
<rect x="648" y="2761.3" width="16.2" height="16.2" fill="#000" stroke="none"/>
<circle cx="842.6" cy="2258" r="7.25" fill="none" stroke="#000" stroke-width="5.5"/>
<text transform="translate(873.7 2271.7) scale(1 1.04)" font-size="43.2">PBS</text>
<polygon points="842.6,2312.3 850.45,2327.9 834.75,2327.9" fill="#000" stroke="none"/>
<text transform="translate(873.7 2334.3) scale(1 1.04)" font-size="43.2">RING</text>
<rect x="834.5" y="2375.9" width="16.2" height="16.2" fill="#000" stroke="none"/>
<text transform="translate(873.7 2398.8) scale(1 1.04)" font-size="43.2">0<tspan class="sf" font-size="40.61">Δ</tspan>NLS</text>
<polyline points="408,2150.5 519,2150.5" fill="none" stroke-width="7.4" stroke-linejoin="miter"/>
<polyline points="460,2150.5 460,2082 622.3,2082 622.3,2150.5" fill="none" stroke-width="7.4" stroke-linejoin="miter"/>
<text x="511.86" y="2076.44" font-size="51.5" letter-spacing="5.17" font-weight="bold" class="dj" stroke="#000" stroke-width="1.1" stroke-linejoin="round">**</text>
<!-- Panel F: brainstem titers -->
<text transform="translate(1387.5 2089.5) scale(1 1.04)" font-size="73" font-weight="bold">F</text>
<polyline points="1707.95,2768.7 1707.95,2589.01 1772.65,2589.01 1772.65,2768.7" fill="none" stroke-width="7.8" stroke-linejoin="miter"/>
<polyline points="1815.85,2768.7 1815.85,2535.15 1880.55,2535.15 1880.55,2768.7" fill="none" stroke-width="7.8" stroke-linejoin="miter"/>
<line x1="1667.8" y1="2223.9" x2="1667.8" y2="2770.8" stroke-width="4.4"/>
<line x1="1647.5" y1="2768.7" x2="2031" y2="2768.7" stroke-width="4.2"/>
<line x1="1647.5" y1="2633.05" x2="1667.8" y2="2633.05" stroke-width="4.4"/>
<line x1="1647.5" y1="2497.4" x2="1667.8" y2="2497.4" stroke-width="4.4"/>
<line x1="1647.5" y1="2361.75" x2="1667.8" y2="2361.75" stroke-width="4.4"/>
<line x1="1647.5" y1="2226.1" x2="1667.8" y2="2226.1" stroke-width="4.4"/>
<text transform="translate(1643.2 2782.94) scale(1 1.08)" font-size="37.5" font-weight="bold" text-anchor="end">0</text>
<text transform="translate(1643.2 2647.29) scale(1 1.08)" font-size="37.5" font-weight="bold" text-anchor="end">1</text>
<text transform="translate(1643.2 2511.64) scale(1 1.08)" font-size="37.5" font-weight="bold" text-anchor="end">2</text>
<text transform="translate(1643.2 2375.99) scale(1 1.08)" font-size="37.5" font-weight="bold" text-anchor="end">3</text>
<text transform="translate(1643.2 2240.34) scale(1 1.08)" font-size="37.5" font-weight="bold" text-anchor="end">4</text>
<text transform="translate(1603.5 2484) rotate(-90) scale(1 1.05)" font-size="43.5" font-weight="bold" text-anchor="middle">HSV-1 (log PFU/BS)</text>
<line x1="1740.3" y1="2533.52" x2="1740.3" y2="2635.52" stroke-width="1.6" style="stroke:#555"/>
<line x1="1721.8" y1="2533.52" x2="1758.8" y2="2533.52" stroke-width="1.6" style="stroke:#555"/>
<line x1="1721.8" y1="2635.52" x2="1758.8" y2="2635.52" stroke-width="1.6" style="stroke:#555"/>
<circle cx="1740.3" cy="2379.16" r="7" fill="none" stroke="#000" stroke-width="5.5"/>
<circle cx="1740.3" cy="2466.2" r="7" fill="none" stroke="#000" stroke-width="5.5"/>
<circle cx="1740.3" cy="2498.57" r="7" fill="none" stroke="#000" stroke-width="5.5"/>
<circle cx="1740.3" cy="2539.91" r="7" fill="none" stroke="#000" stroke-width="5.5"/>
<circle cx="1740.3" cy="2580.85" r="7" fill="none" stroke="#000" stroke-width="5.5"/>
<circle cx="1740.3" cy="2675.5" r="7" fill="none" stroke="#000" stroke-width="5.5"/>
<circle cx="1726" cy="2769.4" r="7" fill="none" stroke="#000" stroke-width="5.5"/>
<circle cx="1755.1" cy="2769.4" r="7" fill="none" stroke="#000" stroke-width="5.5"/>
<line x1="1848.2" y1="2471.64" x2="1848.2" y2="2589.96" stroke-width="1.6" style="stroke:#555"/>
<line x1="1829.7" y1="2471.64" x2="1866.7" y2="2471.64" stroke-width="1.6" style="stroke:#555"/>
<line x1="1829.7" y1="2589.96" x2="1866.7" y2="2589.96" stroke-width="1.6" style="stroke:#555"/>
<polygon points="1848.2,2288.52 1856.15,2304.52 1840.25,2304.52" fill="#000" stroke="none"/>
<polygon points="1863,2330.82 1870.95,2346.82 1855.05,2346.82" fill="#000" stroke="none"/>
<polygon points="1834.2,2341.84 1842.15,2357.84 1826.25,2357.84" fill="#000" stroke="none"/>
<polygon points="1863,2506.94 1870.95,2522.94 1855.05,2522.94" fill="#000" stroke="none"/>
<polygon points="1833.5,2516.46 1841.45,2532.46 1825.55,2532.46" fill="#000" stroke="none"/>
<polygon points="1848.2,2573.31 1856.15,2589.31 1840.25,2589.31" fill="#000" stroke="none"/>
<polygon points="1848.2,2626.62 1856.15,2642.62 1840.25,2642.62" fill="#000" stroke="none"/>
<polygon points="1833.5,2760.5 1841.45,2776.5 1825.55,2776.5" fill="#000" stroke="none"/>
<polygon points="1863,2760.5 1870.95,2776.5 1855.05,2776.5" fill="#000" stroke="none"/>
<rect x="1920.4" y="2761.3" width="16.2" height="16.2" fill="#000" stroke="none"/>
<rect x="1932" y="2761.3" width="16.2" height="16.2" fill="#000" stroke="none"/>
<rect x="1943.6" y="2761.3" width="16.2" height="16.2" fill="#000" stroke="none"/>
<rect x="1955.2" y="2761.3" width="16.2" height="16.2" fill="#000" stroke="none"/>
<rect x="1966.8" y="2761.3" width="16.2" height="16.2" fill="#000" stroke="none"/>
<rect x="1978.4" y="2761.3" width="16.2" height="16.2" fill="#000" stroke="none"/>
<circle cx="2122.7" cy="2258" r="7.25" fill="none" stroke="#000" stroke-width="5.5"/>
<text transform="translate(2154.4 2271.6) scale(1 1.04)" font-size="42.9">PBS</text>
<polygon points="2122.7,2323.6 2130.65,2339.6 2114.75,2339.6" fill="#000" stroke="none"/>
<text transform="translate(2154.4 2345.3) scale(1 1.04)" font-size="42.9">RING</text>
<rect x="2114.6" y="2398.2" width="16.2" height="16.2" fill="#000" stroke="none"/>
<text transform="translate(2154.4 2421.5) scale(1 1.04)" font-size="42.9">0<tspan class="sf" font-size="40.33">Δ</tspan>NLS</text>
<polyline points="1724.2,2168.8 1833.7,2168.8" fill="none" stroke-width="7.4" stroke-linejoin="miter"/>
<polyline points="1775.5,2168.8 1775.5,2101.4 1937,2101.4 1937,2168.8" fill="none" stroke-width="7.4" stroke-linejoin="miter"/>
<text x="1826.11" y="2095.54" font-size="51.5" letter-spacing="5.47" font-weight="bold" class="dj" stroke="#000" stroke-width="1.1" stroke-linejoin="round">**</text>
</svg>
</body>
</html>
